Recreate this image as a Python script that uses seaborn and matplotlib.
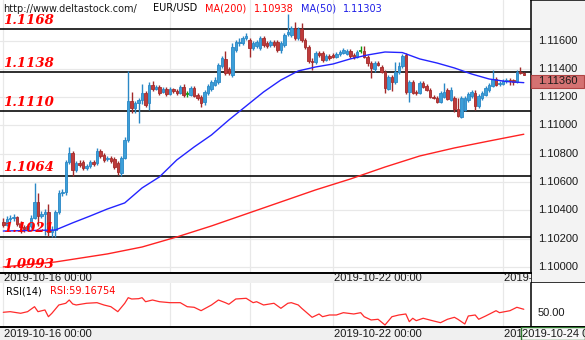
import numpy as np
import matplotlib
matplotlib.use("Agg")
import matplotlib.pyplot as plt
import matplotlib.transforms as mtransforms
from matplotlib.patches import Rectangle
import seaborn as sns

# ---------------- data: EUR/USD hourly candles ----------------
opens = [
    1.10317, 1.10296, 1.10338, 1.10345, 1.10352, 1.10303, 1.10282, 1.10268, 1.10289, 1.10345,
    1.10458, 1.10359, 1.10374, 1.10388, 1.10246, 1.10260, 1.10388, 1.10522, 1.10529, 1.10742,
    1.10805, 1.10685, 1.10735, 1.10742, 1.10699, 1.10713, 1.10742, 1.10735, 1.10820, 1.10791,
    1.10763, 1.10770, 1.10763, 1.10735, 1.10664, 1.10770, 1.10897, 1.11173, 1.11124, 1.11159,
    1.11181, 1.11230, 1.11159, 1.11287, 1.11258, 1.11273, 1.11237, 1.11258, 1.11223, 1.11258,
    1.11244, 1.11230, 1.11273, 1.11223, 1.11216, 1.11265, 1.11216, 1.11202, 1.11166, 1.11230,
    1.11258, 1.11287, 1.11308, 1.11421, 1.11471, 1.11400, 1.11357, 1.11534, 1.11584, 1.11584,
    1.11619, 1.11605, 1.11548, 1.11562, 1.11548, 1.11619, 1.11584, 1.11570, 1.11591, 1.11591,
    1.11534, 1.11570, 1.11647, 1.11640, 1.11690, 1.11619, 1.11683, 1.11605, 1.11555, 1.11456,
    1.11449, 1.11513, 1.11513, 1.11463, 1.11492, 1.11499, 1.11485, 1.11506, 1.11513, 1.11506,
    1.11527, 1.11499, 1.11485, 1.11527, 1.11527, 1.11485, 1.11442, 1.11400, 1.11442, 1.11414,
    1.11378, 1.11258, 1.11343, 1.11308, 1.11378, 1.11421, 1.11499, 1.11237, 1.11308, 1.11237,
    1.11230, 1.11301, 1.11280, 1.11251, 1.11202, 1.11195, 1.11166, 1.11202, 1.11251, 1.11181,
    1.11195, 1.11117, 1.11060, 1.11110, 1.11181, 1.11209, 1.11230, 1.11138, 1.11195, 1.11216,
    1.11251, 1.11280, 1.11329, 1.11294, 1.11294, 1.11315, 1.11322, 1.11322, 1.11308, 1.11378, 1.11371,
]
closes = [
    1.10296, 1.10338, 1.10345, 1.10352, 1.10303, 1.10282, 1.10268, 1.10289, 1.10345, 1.10458,
    1.10359, 1.10374, 1.10388, 1.10246, 1.10260, 1.10388, 1.10522, 1.10529, 1.10742, 1.10805,
    1.10685, 1.10735, 1.10720, 1.10699, 1.10713, 1.10742, 1.10727, 1.10820, 1.10784, 1.10756,
    1.10770, 1.10749, 1.10706, 1.10671, 1.10770, 1.10897, 1.11173, 1.11124, 1.11159, 1.11181,
    1.11230, 1.11145, 1.11287, 1.11258, 1.11273, 1.11230, 1.11258, 1.11223, 1.11258, 1.11244,
    1.11230, 1.11273, 1.11216, 1.11223, 1.11265, 1.11209, 1.11195, 1.11159, 1.11237, 1.11280,
    1.11308, 1.11322, 1.11428, 1.11478, 1.11371, 1.11371, 1.11555, 1.11591, 1.11591, 1.11619,
    1.11633, 1.11548, 1.11584, 1.11591, 1.11619, 1.11570, 1.11562, 1.11591, 1.11570, 1.11534,
    1.11584, 1.11640, 1.11662, 1.11690, 1.11619, 1.11683, 1.11605, 1.11555, 1.11456, 1.11449,
    1.11513, 1.11499, 1.11463, 1.11492, 1.11478, 1.11485, 1.11506, 1.11520, 1.11534, 1.11527,
    1.11492, 1.11485, 1.11520, 1.11527, 1.11485, 1.11442, 1.11407, 1.11442, 1.11428, 1.11378,
    1.11265, 1.11343, 1.11308, 1.11378, 1.11421, 1.11492, 1.11237, 1.11308, 1.11230, 1.11230,
    1.11301, 1.11273, 1.11251, 1.11202, 1.11195, 1.11166, 1.11230, 1.11237, 1.11188, 1.11251,
    1.11117, 1.11067, 1.11195, 1.11195, 1.11223, 1.11237, 1.11138, 1.11209, 1.11230, 1.11265,
    1.11287, 1.11329, 1.11287, 1.11301, 1.11315, 1.11322, 1.11315, 1.11308, 1.11378, 1.11371, 1.11360,
]
highs = [
    1.10345, 1.10359, 1.10367, 1.10374, 1.10359, 1.10324, 1.10296, 1.10303, 1.10367, 1.10593,
    1.10522, 1.10395, 1.10409, 1.10444, 1.10289, 1.10402, 1.10544, 1.10550, 1.10756, 1.10848,
    1.10820, 1.10749, 1.10756, 1.10756, 1.10727, 1.10756, 1.10756, 1.10841, 1.10834, 1.10805,
    1.10784, 1.10784, 1.10777, 1.10749, 1.10784, 1.10918, 1.11386, 1.11237, 1.11173, 1.11195,
    1.11294, 1.11244, 1.11308, 1.11315, 1.11287, 1.11287, 1.11273, 1.11273, 1.11273, 1.11265,
    1.11258, 1.11287, 1.11294, 1.11244, 1.11280, 1.11280, 1.11230, 1.11216, 1.11251, 1.11294,
    1.11322, 1.11343, 1.11442, 1.11492, 1.11527, 1.11414, 1.11584, 1.11605, 1.11619, 1.11633,
    1.11655, 1.11619, 1.11598, 1.11605, 1.11633, 1.11633, 1.11598, 1.11605, 1.11605, 1.11605,
    1.11598, 1.11655, 1.11789, 1.11704, 1.11732, 1.11697, 1.11725, 1.11619, 1.11570, 1.11478,
    1.11527, 1.11527, 1.11527, 1.11506, 1.11506, 1.11513, 1.11520, 1.11534, 1.11548, 1.11541,
    1.11541, 1.11513, 1.11534, 1.11562, 1.11562, 1.11499, 1.11456, 1.11456, 1.11456, 1.11428,
    1.11393, 1.11357, 1.11357, 1.11449, 1.11449, 1.11506, 1.11513, 1.11322, 1.11322, 1.11251,
    1.11315, 1.11315, 1.11294, 1.11265, 1.11216, 1.11209, 1.11244, 1.11301, 1.11265, 1.11273,
    1.11209, 1.11195, 1.11209, 1.11209, 1.11237, 1.11251, 1.11251, 1.11223, 1.11244, 1.11280,
    1.11301, 1.11393, 1.11343, 1.11315, 1.11329, 1.11336, 1.11336, 1.11329, 1.11393, 1.11414, 1.11378,
]
lows = [
    1.10282, 1.10289, 1.10317, 1.10324, 1.10289, 1.10239, 1.10246, 1.10253, 1.10275, 1.10338,
    1.10289, 1.10345, 1.10225, 1.10218, 1.10211, 1.10211, 1.10374, 1.10501, 1.10508, 1.10727,
    1.10643, 1.10671, 1.10706, 1.10685, 1.10685, 1.10699, 1.10713, 1.10720, 1.10770, 1.10742,
    1.10749, 1.10735, 1.10692, 1.10650, 1.10643, 1.10763, 1.10883, 1.11088, 1.11088, 1.11018,
    1.11152, 1.11131, 1.11110, 1.11244, 1.11251, 1.11216, 1.11230, 1.11209, 1.11216, 1.11230,
    1.11216, 1.11223, 1.11202, 1.11202, 1.11209, 1.11202, 1.11181, 1.11131, 1.11145, 1.11216,
    1.11244, 1.11280, 1.11294, 1.11407, 1.11357, 1.11357, 1.11343, 1.11520, 1.11562, 1.11570,
    1.11605, 1.11485, 1.11534, 1.11548, 1.11534, 1.11555, 1.11548, 1.11555, 1.11555, 1.11520,
    1.11513, 1.11555, 1.11633, 1.11626, 1.11605, 1.11605, 1.11591, 1.11541, 1.11442, 1.11393,
    1.11435, 1.11485, 1.11449, 1.11456, 1.11463, 1.11478, 1.11478, 1.11492, 1.11506, 1.11499,
    1.11478, 1.11471, 1.11478, 1.11513, 1.11478, 1.11421, 1.11336, 1.11378, 1.11421, 1.11371,
    1.11230, 1.11251, 1.11244, 1.11294, 1.11364, 1.11407, 1.11223, 1.11166, 1.11223, 1.11216,
    1.11223, 1.11265, 1.11244, 1.11195, 1.11188, 1.11159, 1.11159, 1.11195, 1.11181, 1.11173,
    1.11096, 1.11060, 1.11053, 1.11103, 1.11166, 1.11195, 1.11110, 1.11124, 1.11181, 1.11209,
    1.11237, 1.11273, 1.11280, 1.11280, 1.11287, 1.11301, 1.11287, 1.11287, 1.11301, 1.11364, 1.11357,
]

# moving averages (sampled along the bar index)
ma50_idx = [0, 15, 20, 25, 30, 35, 40, 45, 50, 55, 60, 65, 70, 75, 80, 85, 90, 95,
            100, 105, 110, 115, 120, 125, 130, 135, 140, 145, 150]
ma50_val = [1.10253, 1.10260, 1.10311, 1.10359, 1.10409, 1.10452, 1.10558, 1.10636,
            1.10756, 1.10848, 1.10933, 1.11039, 1.11138, 1.11237, 1.11322, 1.11386,
            1.11414, 1.11435, 1.11471, 1.11499, 1.11520, 1.11516, 1.11471, 1.11442,
            1.11407, 1.11364, 1.11329, 1.11311, 1.11303]
ma200_idx = [0, 15, 30, 40, 50, 60, 70, 80, 90, 100, 110, 120, 130, 140, 150]
ma200_val = [1.09999, 1.10034, 1.10091, 1.10140, 1.10211, 1.10289, 1.10374, 1.10459,
             1.10544, 1.10621, 1.10706, 1.10784, 1.10841, 1.10890, 1.10938]

# RSI(14)
rsi_idx = [0, 2, 5, 7, 9, 10, 12, 13, 14, 16, 18, 19, 20, 21, 24, 27, 29, 31, 33, 35,
           36, 37, 39, 40, 41, 43, 45, 48, 51, 53, 55, 57, 60, 62, 64, 65, 67, 70, 72, 73,
           75, 78, 80, 82, 83, 85, 86, 89, 91, 92, 94, 96, 98, 101, 103, 104, 106, 108, 110, 112,
           114, 116, 117, 118, 119, 121, 124, 126, 128, 130, 131, 133, 134, 136, 137, 139, 142, 143,
           146, 148, 150]
rsi_val = [52.3, 53.7, 50.0, 53.7, 65.1, 53.7, 57.6, 42.2, 50.0, 69.0, 72.9, 80.4, 71.3, 69.0,
           72.9, 74.3, 69.0, 65.1, 53.7, 72.9, 85.7, 82.7, 83.4, 85.7, 76.5, 80.4, 76.5, 74.3,
           74.3, 65.1, 63.7, 56.0, 69.0, 80.4, 74.3, 70.6, 82.7, 84.3, 74.3, 76.5, 69.0, 72.9,
           61.4, 72.9, 74.3, 69.0, 61.4, 40.8, 48.4, 42.2, 46.1, 46.1, 51.4, 48.4, 51.4, 42.2,
           34.7, 36.3, 23.2, 42.2, 46.1, 48.4, 30.8, 38.6, 33.1, 38.6, 32.4, 28.5, 36.3, 40.8,
           36.3, 25.5, 43.8, 46.1, 36.3, 43.8, 55.9, 51.4, 55.9, 63.7, 59.16754]

# support / resistance levels
levels = [1.1168, 1.1138, 1.1110, 1.1064, 1.1021, 1.0993]
level_labels = ["1.1168", "1.1138", "1.1110", "1.1064", "1.1021", "1.0993"]

# session starts (bar index) and the ones carrying a date label
day_starts = [0, 48, 71, 95, 144]
date_ticks = [0, 95, 144]
date_labels = ["2019-10-16 00:00", "2019-10-22 00:00", "2019-10-24 00:00"]

price_ticks = [1.100, 1.102, 1.104, 1.106, 1.108, 1.110, 1.112, 1.114, 1.116]
price_minor = [1.101, 1.103, 1.105, 1.107, 1.109, 1.111, 1.113, 1.115, 1.117]
last_price = 1.11360
ma200_last, ma50_last, rsi_last = 1.10938, 1.11303, 59.16754

# ---------------- styling ----------------
sns.set_style("white")
plt.rcParams["font.family"] = ["DejaVu Sans"]

W, H = 585, 340
BAR_PX = 3.47          # horizontal pixels per hourly bar
X0 = -0.95             # index at left edge
PX_PER_PRICE = 14130.0 # vertical pixels per price unit
PRICE_TOP = 1.11888

UP_FILL, UP_EDGE = "#3d9fd8", "#2a88c6"
DN_FILL, DN_EDGE = "#bf3b3b", "#a32a2a"
DOJI = "#109a10"
GRID = "#e8e8e8"
BAND = "#f0f0f0"
AXIS_FONT = dict(family="Liberation Sans", size=8, color="#1a1a1a")


def px_box(x0, y0, x1, y1):
    return [x0 / W, 1 - y1 / H, (x1 - x0) / W, (y1 - y0) / H]


fig = plt.figure(figsize=(W / 100, H / 100), dpi=100)

o = np.array(opens)
c = np.array(closes)
hi = np.array(highs)
lo = np.array(lows)
idx = np.arange(len(o))

# ---------------- main price panel ----------------
ax = fig.add_axes(px_box(0, 0, 531, 272.7))
ax.set_xlim(X0, X0 + 531 / BAR_PX)
ax.set_ylim(PRICE_TOP - 272.7 / PX_PER_PRICE, PRICE_TOP)
for s in ax.spines.values():
    s.set_visible(False)
ax.set_yticks(price_ticks)
ax.set_xticks(day_starts)
ax.grid(True, color=GRID, lw=0.9, zorder=0)
ax.tick_params(length=0, labelbottom=False, labelleft=False)

for lv in levels:
    ax.axhline(lv, color="black", lw=1.15, zorder=1)

up = c > o
dn = c < o
dj = c == o
w = 0.72
ax.vlines(idx[up], lo[up], hi[up], color=UP_EDGE, lw=1.0, zorder=2)
ax.vlines(idx[dn], lo[dn], hi[dn], color=DN_EDGE, lw=1.0, zorder=2)
ax.vlines(idx[dj], lo[dj], hi[dj], color=DOJI, lw=1.0, zorder=2)
ax.bar(idx[up], c[up] - o[up], bottom=o[up], width=w, color=UP_FILL,
       edgecolor=UP_EDGE, lw=0.6, zorder=3)
ax.bar(idx[dn], o[dn] - c[dn], bottom=c[dn], width=w, color=DN_FILL,
       edgecolor=DN_EDGE, lw=0.6, zorder=3)
ax.hlines(c[dj], idx[dj] - 0.45, idx[dj] + 0.45, color=DOJI, lw=1.2, zorder=3)

sns.lineplot(x=ma200_idx, y=ma200_val, ax=ax, color="#ff2222", lw=1.0,
             zorder=4, legend=False)
sns.lineplot(x=ma50_idx, y=ma50_val, ax=ax, color="#2424ff", lw=1.0,
             zorder=4, legend=False)
ax.set_xlabel("")
ax.set_ylabel("")

ybottom = ax.get_ylim()[0]
for lv, txt in zip(levels, level_labels):
    ax.annotate(txt, xy=(3 / 531, max(lv, ybottom)),
                xycoords=("axes fraction", "data"),
                xytext=(0, 3.6), textcoords="offset points",
                family="DejaVu Serif", weight="bold", style="italic",
                size=9.5, color="#ff0000", va="baseline", ha="left", zorder=6)

# header line
hy = 1 - 8.5 / H
hdr = dict(size=7, va="center", ha="left", family="DejaVu Sans")
fig.text(3 / W, hy, "http://www.deltastock.com/", color="#1a1a1a", **hdr)
fig.text(153 / W, hy, "EUR/USD", color="#000000", **hdr)
fig.text(205 / W, hy, "MA(200)", color="#ff0000", **hdr)
fig.text(254 / W, hy, f"{ma200_last:.5f}", color="#ff0000", **hdr)
fig.text(300.5 / W, hy, "MA(50)", color="#1e1ee6", **hdr)
fig.text(342.5 / W, hy, f"{ma50_last:.5f}", color="#1e1ee6", **hdr)

# ---------------- right price scale ----------------
axr = fig.add_axes(px_box(531, 0, 585, 282.7))
axr.set_facecolor("#f3f3f3")
axr.set_xlim(0, 1)
axr.set_ylim(PRICE_TOP - 282.7 / PX_PER_PRICE, PRICE_TOP)
for k in ("right",):
    axr.spines[k].set_visible(False)
for k in ("left", "top", "bottom"):
    axr.spines[k].set_color("black")
    axr.spines[k].set_linewidth(1.1)
axr.set_yticks(price_ticks)
axr.set_yticks(price_minor, minor=True)
axr.set_xticks([])
axr.tick_params(axis="y", which="major", direction="in", length=4.5,
                width=0.8, color="#555555", labelleft=False)
axr.tick_params(axis="y", which="minor", direction="in", length=2.5,
                width=0.8, color="#555555")
blend_r = mtransforms.blended_transform_factory(axr.transAxes, axr.transData)
for v in price_ticks:
    axr.text(6.7 / 54, v, f"{v:.5f}", transform=blend_r, va="center",
             ha="left", **AXIS_FONT)
box_h = 13 / PX_PER_PRICE
axr.add_patch(Rectangle((0.0, last_price - box_h), 53 / 54, box_h,
                        transform=blend_r, facecolor="#d47272",
                        edgecolor="#b04545", lw=0.8, zorder=5))
axr.text(6.7 / 54, last_price - box_h / 2, f"{last_price:.5f}",
         transform=blend_r, va="center", ha="left", zorder=6, **AXIS_FONT)

# ---------------- date band under the price panel ----------------
axb = fig.add_axes(px_box(0, 272.7, 531, 282.7))
axb.set_facecolor(BAND)
axb.set_xlim(X0, X0 + 531 / BAR_PX)
axb.set_ylim(0, 1)
axb.set_xticks([])
axb.set_yticks([])
for k in ("left", "right", "bottom"):
    axb.spines[k].set_visible(False)
axb.spines["top"].set_color("black")
axb.spines["top"].set_linewidth(1.4)
for t, lab in zip(date_ticks, date_labels):
    axb.text(t + 0.2, 0.45, lab, va="center", ha="left", clip_on=True,
             **AXIS_FONT)

# ---------------- RSI panel ----------------
RSI_LO, RSI_HI = 19.3, 120.0
axi = fig.add_axes(px_box(0, 282.7, 531, 326.7))
axi.set_facecolor("white")
axi.set_xlim(X0, X0 + 531 / BAR_PX)
axi.set_ylim(RSI_LO, RSI_HI)
for s in axi.spines.values():
    s.set_visible(False)
axi.set_xticks(day_starts)
axi.set_yticks([])
axi.grid(True, axis="x", color=GRID, lw=0.9)
axi.tick_params(axis="x", direction="in", length=4, color="#888888",
                labelbottom=False)
sns.lineplot(x=rsi_idx, y=rsi_val, ax=axi, color="#ff2b2b", lw=0.9,
             legend=False)
axi.set_xlabel("")
axi.set_ylabel("")
fig.text(6 / W, 1 - 291 / H, "RSI(14)", size=7, va="center", ha="left",
         color="#000000")
fig.text(50 / W, 1 - 291 / H, f"RSI:{rsi_last:.5f}", size=7, va="center",
         ha="left", color="#ff0000")

axir = fig.add_axes(px_box(531, 282.7, 585, 326.7))
axir.set_facecolor("white")
axir.set_xlim(0, 1)
axir.set_ylim(RSI_LO, RSI_HI)
for k in ("right", "top", "bottom"):
    axir.spines[k].set_visible(False)
axir.spines["left"].set_color("black")
axir.spines["left"].set_linewidth(1.1)
axir.set_xticks([])
axir.set_yticks([25, 50, 75, 100])
axir.tick_params(axis="y", direction="in", length=4.5, width=0.8,
                 color="#555555", labelleft=False)
blend_i = mtransforms.blended_transform_factory(axir.transAxes, axir.transData)
axir.text(6.7 / 54, 50, "50.00", transform=blend_i, va="center", ha="left",
          **AXIS_FONT)

# ---------------- bottom date band ----------------
axbb = fig.add_axes(px_box(0, 326.7, 585, 340))
axbb.set_facecolor(BAND)
axbb.set_xlim(X0, X0 + 585 / BAR_PX)
axbb.set_ylim(0, 1)
axbb.set_xticks([])
axbb.set_yticks([])
for k in ("left", "right", "bottom"):
    axbb.spines[k].set_visible(False)
axbb.spines["top"].set_color("black")
axbb.spines["top"].set_linewidth(1.4)
for t, lab in zip(date_ticks, date_labels):
    axbb.text(t + 0.2, 0.45, lab, va="center", ha="left", clip_on=True,
              **AXIS_FONT)
axbb.add_patch(Rectangle((521 / 585, 0.02), 64 / 585, 0.96,
                         transform=axbb.transAxes, facecolor="#f7f7f7",
                         edgecolor="#2f7a2f", lw=1.0, zorder=5))
axbb.text(522.5 / 585, 0.45, date_labels[-1], transform=axbb.transAxes,
          va="center", ha="left", zorder=6, clip_on=True, **AXIS_FONT)

fig.savefig("out.png", dpi=100)
